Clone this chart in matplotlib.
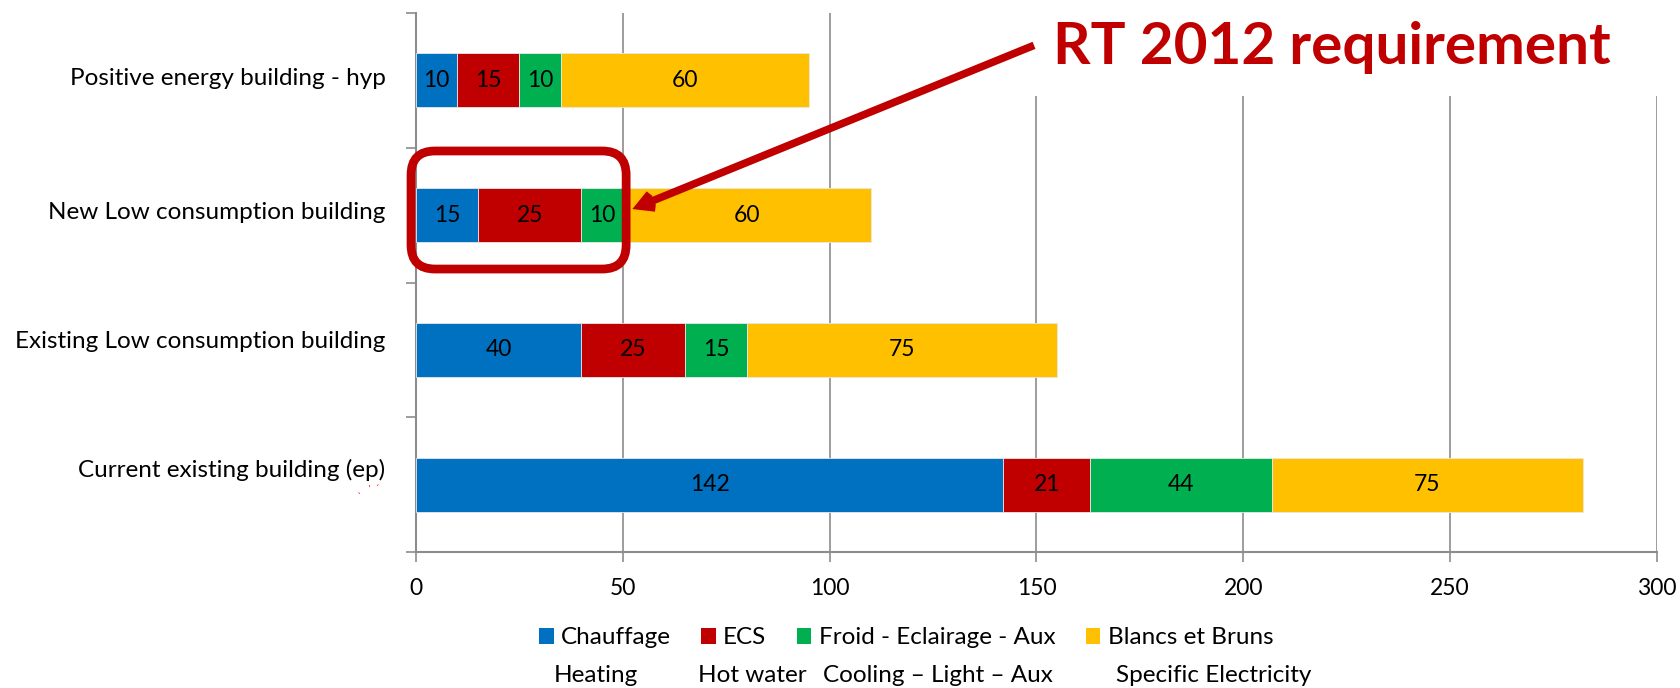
import matplotlib
matplotlib.use("Agg")
import matplotlib.pyplot as plt
import matplotlib.transforms as mtransforms
from matplotlib.patches import Patch, FancyBboxPatch, Rectangle
import numpy as np

plt.rcParams['font.family'] = ['Lato', 'DejaVu Sans']

# ---------------- data ----------------
categories = ["Current existing building (ep)",
              "Existing Low consumption building",
              "New Low consumption building",
              "Positive energy building - hyp"]
chauffage = [142, 40, 15, 10]
ecs = [21, 25, 25, 15]
froid = [44, 15, 10, 10]
blancs = [75, 75, 60, 60]
series_fr = ["Chauffage", "ECS", "Froid - Eclairage - Aux", "Blancs et Bruns"]
series_en = ["Heating", "Hot water", "Cooling \u2013 Light \u2013 Aux", "Specific Electricity"]
colors = ["#0070C0", "#C00000", "#00B050", "#FFC000"]
x_ticks = [0, 50, 100, 150, 200, 250, 300]
annotation_text = "RT 2012 requirement"

W, H = 1681, 688
fig = plt.figure(figsize=(W / 100, H / 100), dpi=100)
ax = fig.add_axes([416 / W, 1 - 552 / H, (1657 - 416) / W, (552 - 13) / H])

y = np.arange(len(categories))
left = np.zeros(len(categories))
for vals, c in zip([chauffage, ecs, froid, blancs], colors):
    bars = ax.barh(y, vals, left=left, height=0.4, color=c, edgecolor="#e8e8e8",
                   linewidth=0.6, zorder=3)
    ax.bar_label(bars, labels=[str(v) for v in vals], label_type="center",
                 fontsize=16.5, color="black", zorder=4)
    left += np.array(vals)

ax.set_xlim(0, 300)
ax.set_ylim(-0.5, len(categories) - 0.5)
ax.set_xticks(x_ticks)
ax.set_xticklabels([str(t) for t in x_ticks], fontsize=16.5)
ax.xaxis.grid(True, color="#8c8c8c", linewidth=1.2, zorder=0)
ax.set_axisbelow(True)

ax.set_yticks(y)
ax.set_yticklabels(categories, fontsize=17.5)
ax.set_yticks(np.arange(-0.5, len(categories), 1.0), minor=True)
ax.tick_params(axis="y", which="major", length=0, pad=22)
ax.tick_params(axis="y", which="minor", length=7, width=1.2, color="#8c8c8c", direction="out")
ax.tick_params(axis="x", which="major", length=7, width=1.2, color="#8c8c8c",
               direction="out", pad=12)

offsets_px = [17, 10, 5, 4]
for lbl, off in zip(ax.get_yticklabels(), offsets_px):
    lbl.set_transform(lbl.get_transform() +
                      mtransforms.ScaledTranslation(0, off / 100, fig.dpi_scale_trans))

for s in ["top", "right"]:
    ax.spines[s].set_visible(False)
for s in ["left", "bottom"]:
    ax.spines[s].set_color("#8c8c8c")
    ax.spines[s].set_linewidth(1.5)

# white box behind the annotation text (covers grid lines)
ax.add_patch(Rectangle((0.495, 0.846), 0.53, 0.2, transform=ax.transAxes,
                       facecolor="white", edgecolor="none", clip_on=False, zorder=4))
fig.text(1332 / W, 1 - 47 / H, annotation_text, color="#C00000", fontsize=42,
         fontweight="bold", ha="center", va="center", zorder=10)

# arrow
ax.annotate("", xy=(52.3, 2.045), xytext=(149.4, 3.26),
            arrowprops=dict(arrowstyle="->,head_length=1.0,head_width=0.55",
                            color="#C00000", lw=5.5, shrinkA=0, shrinkB=0,
                            joinstyle="miter", capstyle="butt"),
            annotation_clip=False, zorder=6)

# rounded rectangle around the RT 2012 part
fig.canvas.draw()
(px0, py0) = ax.transData.transform((-1.2, 1.60))
(px1, py1) = ax.transData.transform((50.8, 2.476))
box = FancyBboxPatch((px0, py0), px1 - px0, py1 - py0,
                     boxstyle="round,pad=0,rounding_size=24",
                     facecolor="none", edgecolor="#C00000", linewidth=6.3,
                     transform=None, zorder=7)
fig.add_artist(box)

# small red marks under the bottom label
fig.text(368 / W, 1 - 489 / H, "\u02ce   '  \u02ca", color="red", fontsize=7,
         ha="center", va="center")

# legend
handles = [Patch(facecolor=c, edgecolor="none") for c in colors]
fig.legend(handles, series_fr, loc="center", bbox_to_anchor=(0.539, 1 - 638 / H),
           ncol=4, frameon=False, fontsize=17.5, handlelength=0.6, handleheight=0.6,
           handletextpad=0.3, columnspacing=1.25)
en_x = [554, 698, 823, 1116]
for xx, t in zip(en_x, series_en):
    fig.text(xx / W, 1 - 676 / H, t, fontsize=17.5, ha="left", va="center")

fig.savefig("out.png", dpi=100)
